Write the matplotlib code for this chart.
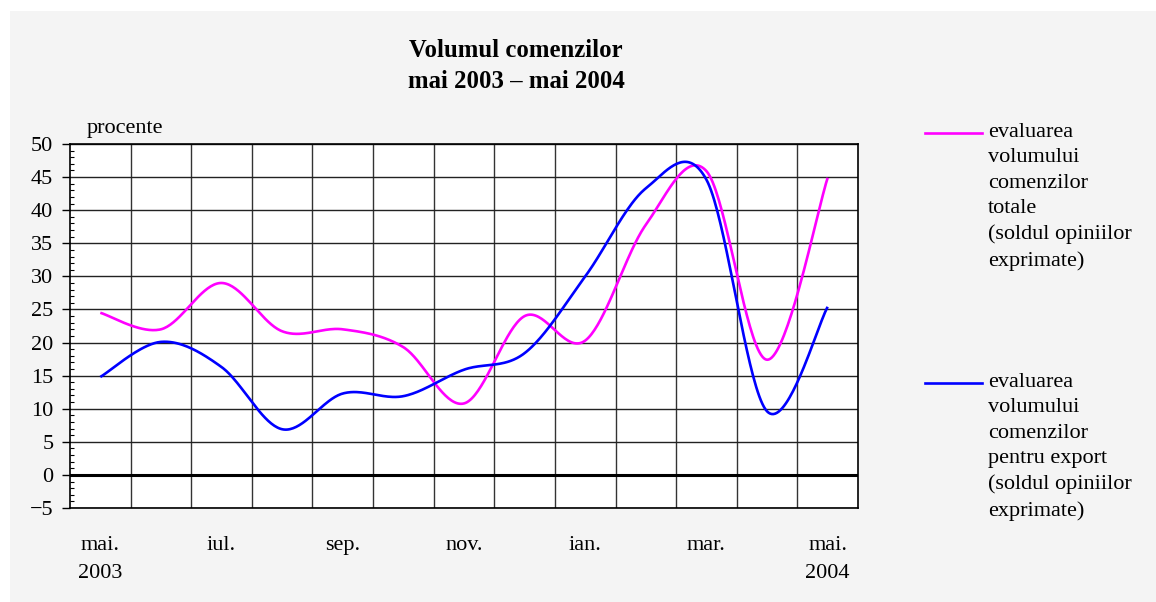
import numpy as np
import matplotlib
matplotlib.use("Agg")
import matplotlib.pyplot as plt
from matplotlib.lines import Line2D
from matplotlib.patches import Rectangle
from matplotlib.transforms import blended_transform_factory

months = ["mai", "iun", "iul", "aug", "sep", "oct", "nov", "dec",
          "ian", "feb", "mar", "apr", "mai"]
totale = [24.5, 22.0, 29.0, 21.7, 22.0, 19.3, 10.8, 24.0, 20.3, 37.8, 45.9, 17.4, 44.9]
export = [14.8, 20.1, 16.3, 6.9, 12.3, 11.9, 15.9, 18.4, 30.0, 43.3, 44.6, 9.6, 25.4]
xlabel_pos = [0, 2, 4, 6, 8, 10, 12]
xlabels = ["mai.", "iul.", "sep.", "nov.", "ian.", "mar.", "mai."]
year_pos = [0, 12]
year_labels = ["2003", "2004"]
yticks = [-5, 0, 5, 10, 15, 20, 25, 30, 35, 40, 45, 50]

title = "Volumul comenzilor\nmai 2003 \u2013 mai 2004"
leg1 = "evaluarea\nvolumului\ncomenzilor\ntotale\n(soldul opiniilor\nexprimate)"
leg2 = "evaluarea\nvolumului\ncomenzilor\npentru export\n(soldul opiniilor\nexprimate)"

MAG = "#ff00ff"
BLU = "#0000ff"
BG = "#f4f4f4"
FS = 16


def smooth(y, n=40):
    """Excel-like smoothed line (Bezier through points, Catmull-Rom tangents)."""
    y = np.asarray(y, float)
    x = np.arange(len(y), dtype=float)
    P = np.column_stack([x, y])
    Pe = np.vstack([P[0], P, P[-1]])
    out = []
    t = np.linspace(0, 1, n)[:, None]
    for i in range(len(P) - 1):
        p0, p1, p2, p3 = Pe[i], Pe[i + 1], Pe[i + 2], Pe[i + 3]
        b1 = p1 + (p2 - p0) / 6.0
        b2 = p2 - (p3 - p1) / 6.0
        seg = ((1 - t) ** 3) * p1 + 3 * ((1 - t) ** 2) * t * b1 + 3 * (1 - t) * t ** 2 * b2 + t ** 3 * p2
        out.append(seg if i == 0 else seg[1:])
    s = np.vstack(out)
    return s[:, 0], s[:, 1]


plt.rcParams["font.family"] = ["Liberation Serif", "DejaVu Serif"]
W, H = 1156, 602
fig = plt.figure(figsize=(W / 100, H / 100), dpi=100)
fig.patch.set_facecolor("white")
fig.add_artist(Rectangle((10 / W, 0), 1 - 10 / W, 1 - 11 / H, transform=fig.transFigure,
                         facecolor=BG, edgecolor="none", zorder=-10))

L, R, T, B = 70, 858, 144, 508
ax = fig.add_axes([L / W, 1 - B / H, (R - L) / W, (B - T) / H])
ax.set_facecolor("white")

ax.set_xlim(-0.5, 12.5)
ax.set_ylim(-5, 50)

# grid
ax.set_xticks([])
ax.set_xticks(np.arange(0.5, 12.5, 1.0), minor=True)
ax.tick_params(axis="x", which="both", length=0, labelbottom=False)
ax.grid(True, axis="x", which="minor", color="#333333", lw=1.0)
ax.set_yticks(yticks)
ax.set_yticks(np.arange(-5, 51, 1), minor=True)
ax.grid(True, axis="y", which="major", color="#222222", lw=1.0)
ax.tick_params(axis="y", which="major", direction="out", length=6, width=1.0,
               labelsize=FS, pad=6)
ax.tick_params(axis="y", which="minor", direction="in", length=3, width=0.8)
ax.set_yticklabels(["\u22125" if v < 0 else str(v) for v in yticks])
ax.set_axisbelow(True)
for s in ax.spines.values():
    s.set_color("black")
    s.set_linewidth(1.2)
ax.axhline(0, color="black", lw=2.2, zorder=1.5)

xs, ys = smooth(totale)
ax.plot(xs, ys, color=MAG, lw=1.9, zorder=3, solid_capstyle="butt")
xs, ys = smooth(export)
ax.plot(xs, ys, color=BLU, lw=1.9, zorder=3, solid_capstyle="butt")

# x labels
tr = blended_transform_factory(ax.transData, fig.transFigure)
for p, lab in zip(xlabel_pos, xlabels):
    ax.text(p, 1 - 550 / H, lab, transform=tr, ha="center", va="baseline", fontsize=FS)
for p, lab in zip(year_pos, year_labels):
    ax.text(p, 1 - 578 / H, lab, transform=tr, ha="center", va="baseline", fontsize=FS)

fig.text(87 / W, 1 - 129 / H, "procente", ha="left", va="center", fontsize=FS)
fig.text(516 / W, 1 - 66 / H, title, ha="center", va="center", fontsize=17.8,
         fontweight="bold", linespacing=1.45)

# legend
for ly, txt, col in [(133, leg1, MAG), (383, leg2, BLU)]:
    fig.add_artist(Line2D([925 / W, 982 / W], [1 - ly / H, 1 - ly / H],
                          transform=fig.transFigure, color=col, lw=1.9))
    fig.text(988 / W, 1 - (ly - 10) / H, txt, ha="left", va="top", fontsize=FS,
             linespacing=1.45)

fig.savefig("out.png", dpi=100, facecolor=fig.get_facecolor())
